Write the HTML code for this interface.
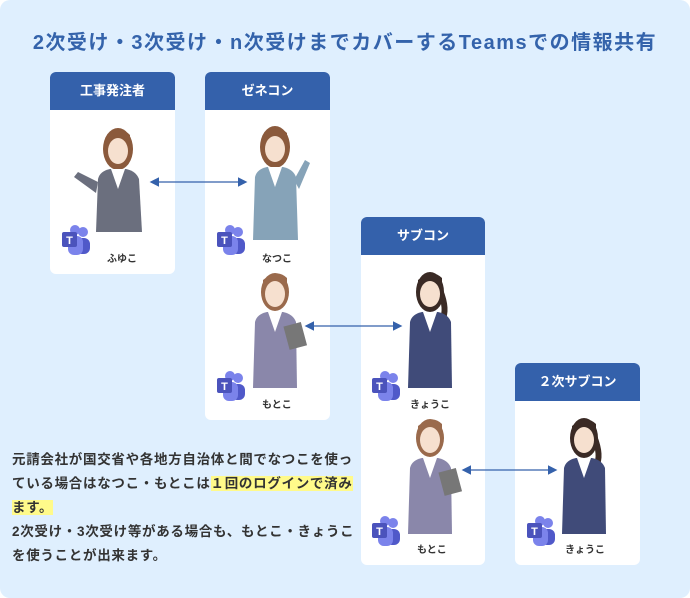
<!DOCTYPE html>
<html><head><meta charset="utf-8"><style>
*{margin:0;padding:0;box-sizing:border-box}
body{width:690px;height:598px;background:#fff;font-family:"Liberation Sans","Noto Sans CJK JP",sans-serif;position:relative;overflow:hidden}
.bg{position:absolute;left:0;top:0;width:690px;height:598px;background:#dfeffe;border-radius:10px}
.title{position:absolute;left:0;width:690px;top:26px;text-align:center;color:#3463ab;font-size:20px;font-weight:bold;letter-spacing:1.5px}
.card{position:absolute;background:#fff;border-radius:6px;overflow:hidden}
.card .h{background:#3461ab;color:#fff;font-size:13px;font-weight:bold;text-align:center;height:38px;line-height:38px}
.name{position:absolute;font-size:10px;color:#333;font-weight:bold}
.txt{position:absolute;left:12px;top:448px;width:360px;font-size:13.5px;line-height:24px;color:#333;font-weight:bold;letter-spacing:0.7px;white-space:nowrap}
.hl{background:#fffa8a}
svg{position:absolute;left:0;top:0}
</style></head><body>
<div class="bg"></div>
<div class="title">2次受け・3次受け・n次受けまでカバーするTeamsでの情報共有</div>
<div class="card" style="left:50px;top:72px;width:125px;height:202px"><div class="h">工事発注者</div></div>
<div class="card" style="left:205px;top:72px;width:125px;height:348px"><div class="h">ゼネコン</div></div>
<div class="card" style="left:361px;top:217px;width:124px;height:348px"><div class="h">サブコン</div></div>
<div class="card" style="left:515px;top:363px;width:125px;height:202px"><div class="h">２次サブコン</div></div>
<svg width="690" height="598" viewBox="0 0 690 598">
<defs>
<marker id="a" markerWidth="8" markerHeight="8" refX="6" refY="4" orient="auto-start-reverse"><path d="M0,0 L8,4 L0,8 Z" fill="#3461ab"/></marker>
<g id="teams"><circle cx="21" cy="6" r="5" fill="#7b83eb"/><rect x="14" y="12" width="14" height="16" rx="6" fill="#5059c9"/><circle cx="13" cy="4" r="5" fill="#7b83eb"/><rect x="6" y="10" width="15" height="19" rx="6" fill="#7b83eb"/><rect x="0" y="6" width="15" height="15" rx="2" fill="#4b53bc"/></g>
</defs>
<line x1="152" y1="182" x2="245" y2="182" stroke="#3461ab" stroke-width="1.2" marker-start="url(#a)" marker-end="url(#a)"/>
<line x1="307" y1="326" x2="400" y2="326" stroke="#3461ab" stroke-width="1.2" marker-start="url(#a)" marker-end="url(#a)"/>
<line x1="464" y1="470" x2="555" y2="470" stroke="#3461ab" stroke-width="1.2" marker-start="url(#a)" marker-end="url(#a)"/>
<g transform="translate(118,127)"><ellipse cx="0" cy="22" rx="15" ry="21" fill="#8b5a3c"/><path d="M-22,105 L-20,52 Q-18,44 -8,42 L8,42 Q18,44 21,52 L24,105 Z" fill="#6b6f7e"/><path d="M-20,55 L-40,45 L-44,50 L-22,66 Z" fill="#6b6f7e"/><path d="M-7,42 L0,62 L7,42 Z" fill="#fff"/><ellipse cx="0" cy="24" rx="10" ry="13" fill="#f6e0cf"/><path d="M-12,20 Q-6,4 12,14 L12,8 Q2,-2 -12,10 Z" fill="#8b5a3c"/></g>
<g transform="translate(275,125)"><ellipse cx="0" cy="22" rx="15" ry="21" fill="#8b5a3c"/><path d="M-22,115 L-20,52 Q-18,44 -8,42 L8,42 Q18,44 21,52 L23,115 Z" fill="#86a3b8"/><path d="M19,55 L30,35 L35,38 L24,64 Z" fill="#86a3b8"/><path d="M-7,42 L0,62 L7,42 Z" fill="#fff"/><ellipse cx="0" cy="24" rx="10" ry="13" fill="#f6e0cf"/><path d="M-12,20 Q-6,4 12,14 L12,8 Q2,-2 -12,10 Z" fill="#8b5a3c"/></g>
<g transform="translate(275,272)"><ellipse cx="0" cy="20" rx="14" ry="19" fill="#9a6a4c"/><path d="M-22,116 L-20,50 Q-18,42 -8,40 L8,40 Q18,42 21,50 L22,116 Z" fill="#8a87aa"/><path d="M-7,40 L0,60 L7,40 Z" fill="#fff"/><rect x="-6" y="55" width="18" height="24" fill="#777" transform="rotate(-15)"/><ellipse cx="0" cy="22" rx="10" ry="13" fill="#f6e0cf"/><path d="M-12,18 Q-6,2 12,12 L12,6 Q2,-4 -12,8 Z" fill="#9a6a4c"/></g>
<g transform="translate(430,270)"><ellipse cx="0" cy="22" rx="14" ry="20" fill="#3a2a25"/><path d="M10,20 Q18,40 12,50" stroke="#3a2a25" stroke-width="6" fill="none"/><path d="M-22,118 L-20,52 Q-18,44 -8,42 L8,42 Q18,44 21,52 L22,118 Z" fill="#404b79"/><path d="M-7,42 L0,62 L7,42 Z" fill="#fff"/><ellipse cx="0" cy="24" rx="10" ry="13" fill="#f6e0cf"/><path d="M-12,20 Q-4,2 12,18 L12,8 Q2,-2 -12,10 Z" fill="#3a2a25"/></g>
<g transform="translate(430,418)"><ellipse cx="0" cy="20" rx="14" ry="19" fill="#9a6a4c"/><path d="M-22,116 L-20,50 Q-18,42 -8,40 L8,40 Q18,42 21,50 L22,116 Z" fill="#8a87aa"/><path d="M-7,40 L0,60 L7,40 Z" fill="#fff"/><rect x="-6" y="55" width="18" height="24" fill="#777" transform="rotate(-15)"/><ellipse cx="0" cy="22" rx="10" ry="13" fill="#f6e0cf"/><path d="M-12,18 Q-6,2 12,12 L12,6 Q2,-4 -12,8 Z" fill="#9a6a4c"/></g>
<g transform="translate(584,416)"><ellipse cx="0" cy="22" rx="14" ry="20" fill="#3a2a25"/><path d="M10,20 Q18,40 12,50" stroke="#3a2a25" stroke-width="6" fill="none"/><path d="M-22,118 L-20,52 Q-18,44 -8,42 L8,42 Q18,44 21,52 L22,118 Z" fill="#404b79"/><path d="M-7,42 L0,62 L7,42 Z" fill="#fff"/><ellipse cx="0" cy="24" rx="10" ry="13" fill="#f6e0cf"/><path d="M-12,20 Q-4,2 12,18 L12,8 Q2,-2 -12,10 Z" fill="#3a2a25"/></g>
<use href="#teams" x="62" y="226"/><use href="#teams" x="217" y="226"/><use href="#teams" x="217" y="372"/><use href="#teams" x="372" y="372"/><use href="#teams" x="372" y="517"/><use href="#teams" x="527" y="517"/>
<g fill="#fff" font-size="11" font-weight="bold" font-family="Liberation Sans,sans-serif" text-anchor="middle"><text x="69.5" y="244">T</text><text x="224.5" y="244">T</text><text x="224.5" y="390">T</text><text x="379.5" y="390">T</text><text x="379.5" y="535">T</text><text x="534.5" y="535">T</text></g>
</svg>
<div class="name" style="left:107px;top:250px">ふゆこ</div>
<div class="name" style="left:262px;top:250px">なつこ</div>
<div class="name" style="left:262px;top:396px">もとこ</div>
<div class="name" style="left:410px;top:396px">きょうこ</div>
<div class="name" style="left:417px;top:541px">もとこ</div>
<div class="name" style="left:565px;top:541px">きょうこ</div>
<div class="txt">元請会社が国交省や各地方自治体と間でなつこを使っ<br>ている場合はなつこ・もとこは<span class="hl">１回のログインで済み</span><br><span class="hl">ます。</span><br>2次受け・3次受け等がある場合も、もとこ・きょうこ<br>を使うことが出来ます。</div>
</body></html>
